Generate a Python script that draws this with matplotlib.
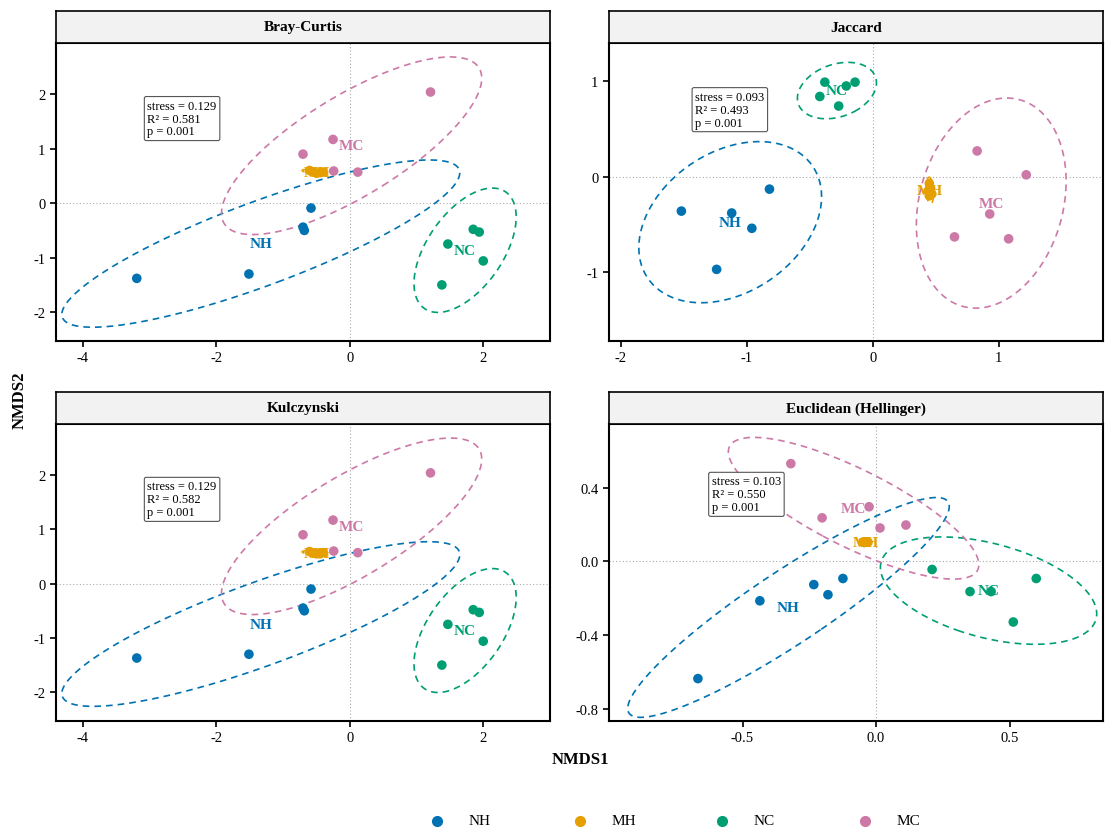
import numpy as np
import matplotlib
matplotlib.use("Agg")
import matplotlib.pyplot as plt

plt.rcParams['font.family'] = ['Liberation Serif', 'DejaVu Serif']

groups = ["NH", "MH", "NC", "MC"]
colors = {"NH": "#0072B2", "MH": "#E69F00", "NC": "#009E73", "MC": "#CC79A7"}

# Bray-Curtis
bray = {
    "NH": ([-3.19, -1.51, -0.70, -0.68, -0.58], [-1.38, -1.30, -0.44, -0.50, -0.09]),
    "MH": ([-0.60, -0.55, -0.50, -0.45, -0.40], [0.60, 0.57, 0.55, 0.56, 0.57]),
    "NC": ([1.38, 1.47, 1.85, 1.94, 2.00], [-1.50, -0.75, -0.48, -0.53, -1.06]),
    "MC": ([1.21, -0.25, -0.70, -0.24, 0.12], [2.04, 1.17, 0.90, 0.59, 0.57]),
}
# Jaccard
jacc = {
    "NH": ([-1.52, -1.12, -0.96, -0.82, -1.24], [-0.36, -0.38, -0.54, -0.13, -0.97]),
    "MH": ([0.45, 0.46, 0.44, 0.47, 0.45], [-0.07, -0.12, -0.15, -0.18, -0.20]),
    "NC": ([-0.38, -0.14, -0.21, -0.42, -0.27], [0.99, 0.99, 0.95, 0.84, 0.74]),
    "MC": ([0.83, 1.22, 0.93, 0.65, 1.08], [0.27, 0.02, -0.39, -0.63, -0.65]),
}
# Kulczynski
kulc = {
    "NH": ([-3.19, -1.51, -0.70, -0.68, -0.58], [-1.37, -1.30, -0.45, -0.50, -0.10]),
    "MH": ([-0.60, -0.55, -0.50, -0.45, -0.40], [0.59, 0.56, 0.55, 0.55, 0.57]),
    "NC": ([1.38, 1.47, 1.85, 1.94, 2.00], [-1.50, -0.75, -0.48, -0.53, -1.06]),
    "MC": ([1.21, -0.25, -0.70, -0.24, 0.12], [2.04, 1.17, 0.90, 0.60, 0.57]),
}
# Euclidean (Hellinger)
eucl = {
    "NH": ([-0.667, -0.435, -0.233, -0.180, -0.124], [-0.636, -0.214, -0.126, -0.181, -0.093]),
    "MH": ([-0.050, -0.040, -0.030, -0.045, -0.035], [0.104, 0.106, 0.104, 0.102, 0.105]),
    "NC": ([0.210, 0.352, 0.431, 0.514, 0.600], [-0.044, -0.164, -0.164, -0.329, -0.093]),
    "MC": ([-0.319, -0.202, -0.026, 0.015, 0.112], [0.530, 0.236, 0.296, 0.181, 0.197]),
}

titles = ["Bray-Curtis", "Jaccard", "Kulczynski", "Euclidean (Hellinger)"]
datasets = [bray, jacc, kulc, eucl]
stats = [("0.129", "0.581", "0.001"), ("0.093", "0.493", "0.001"),
         ("0.129", "0.582", "0.001"), ("0.103", "0.550", "0.001")]
xlims = [(-4.40, 3.0), (-2.095, 1.83), (-4.40, 3.0), (-1.0, 0.85)]
ylims = [(-2.53, 2.94), (-1.72, 1.40), (-2.53, 2.94), (-0.866, 0.745)]
xticks = [[-4, -2, 0, 2], [-2, -1, 0, 1], [-4, -2, 0, 2], [-0.5, 0.0, 0.5]]
yticks = [[-2, -1, 0, 1, 2], [-1, 0, 1], [-2, -1, 0, 1, 2], [-0.8, -0.4, 0.0, 0.4]]
boxpos = [(-3.03, 1.9), (-1.41, 0.9), (-3.03, 1.9), (-0.615, 0.466)]

W, H = 1115, 837
fig = plt.figure(figsize=(W / 100, H / 100), dpi=100)
rects = [(56, 44, 550, 342), (609, 44, 1103, 342), (56, 425, 550, 722), (609, 425, 1103, 722)]
RADIUS = 2.7

def ellipse(x, y):
    x = np.asarray(x); y = np.asarray(y)
    c = np.cov(x, y)
    t = np.linspace(0, 2 * np.pi, 200)
    circ = np.vstack([np.cos(t), np.sin(t)])
    vals, vecs = np.linalg.eigh(c)
    L = vecs @ np.diag(np.sqrt(np.maximum(vals, 0)))
    pts = (L @ circ) * RADIUS
    return x.mean() + pts[0], y.mean() + pts[1]

for i in range(4):
    l, t, r, b = rects[i]
    ax = fig.add_axes([l / W, 1 - b / H, (r - l) / W, (b - t) / H])
    sax = fig.add_axes([l / W, 1 - t / H, (r - l) / W, 32 / H])
    sax.set_xticks([]); sax.set_yticks([])
    sax.set_facecolor("#F2F2F2")
    for sp in sax.spines.values():
        sp.set_linewidth(1.2)
    sax.text(0.5, 0.5, titles[i], ha="center", va="center", fontsize=11, fontweight="bold",
             transform=sax.transAxes)
    d = datasets[i]
    ax.axhline(0, color="#AAAAAA", lw=0.8, ls=(0, (1, 2)), zorder=0)
    ax.axvline(0, color="#AAAAAA", lw=0.8, ls=(0, (1, 2)), zorder=0)
    for g in groups:
        x, y = d[g]
        ex, ey = ellipse(x, y)
        ax.plot(ex, ey, color=colors[g], ls=(0, (4, 3)), lw=1.2, zorder=1)
        ax.text(np.mean(x), np.mean(y), g, color=colors[g], fontsize=11, fontweight="bold",
                ha="center", va="center", zorder=2)
        ax.scatter(x, y, s=48, color=colors[g], edgecolors="none", zorder=3)
    s, r2, p = stats[i]
    ax.text(boxpos[i][0], boxpos[i][1], f"stress = {s}\nR² = {r2}\np = {p}", fontsize=9,
            ha="left", va="top", linespacing=1.1, zorder=4,
            bbox=dict(boxstyle="round,pad=0.25,rounding_size=0.15", fc="white", ec="#555555", lw=0.8))
    ax.set_xlim(*xlims[i]); ax.set_ylim(*ylims[i])
    ax.set_xticks(xticks[i]); ax.set_yticks(yticks[i])
    if i == 3:
        ax.set_xticklabels(["-0.5", "0.0", "0.5"])
        ax.set_yticklabels(["-0.8", "-0.4", "0.0", "0.4"])
    else:
        ax.set_xticklabels([str(v) for v in xticks[i]])
        ax.set_yticklabels([str(v) for v in yticks[i]])
    ax.tick_params(direction="out", length=4, width=1.2, labelsize=10.5, colors="black")
    for sp in ax.spines.values():
        sp.set_linewidth(1.5)

fig.text(580 / W, 1 - 760 / H, "NMDS1", ha="center", va="center", fontsize=12, fontweight="bold")
fig.text(20 / W, 1 - 400 / H, "NMDS2", ha="center", va="center", fontsize=12, fontweight="bold",
         rotation=90)

# legend (manual layout)
leg_x = [437, 580, 722, 865]
for g, px in zip(groups, leg_x):
    fig.add_artist(plt.Line2D([px / W], [1 - 822 / H], marker="o", ls="none",
                              color=colors[g], markersize=7, transform=fig.transFigure))
    fig.text((px + 32) / W, 1 - 822 / H, g, ha="left", va="center", fontsize=11)

fig.savefig("out.png", dpi=100)
